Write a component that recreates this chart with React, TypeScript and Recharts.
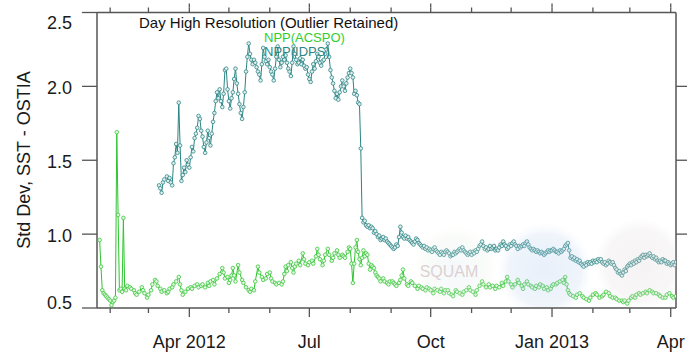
import React from 'react';
import { LineChart, Line, XAxis, YAxis } from 'recharts';

// days since 2012-01-01 (day 0 = Jan 1 2012)
const monthTickDays = [31, 60, 91, 121, 152, 182, 213, 244, 274, 305, 335, 366, 397, 425, 456];
const majorTickDays = [91, 182, 274, 366, 456];
const majorTickLabels = ['Apr 2012', 'Jul', 'Oct', 'Jan 2013', 'Apr'];
const yTicks = [0.5, 1.0, 1.5, 2.0, 2.5];
const yTicksRight = [1.0, 1.5, 2.0];

const acspo: [number, number][] = [
  [23,0.96],[24,0.78],[25,0.62],[26,0.60],[27,0.59],[28,0.58],[29,0.57],[30,0.56],[31,0.55],[32,0.52],[33,0.54],[34,0.55],[35,0.57],[36,1.69],[37,1.13],[38,0.62],[39,0.63],[40,0.61],[41,1.11],[42,0.63],[43,0.62],[44,0.65],[46,0.64],[47,0.63],[49,0.62],[50,0.60],[51,0.59],[53,0.61],[55,0.64],[56,0.62],[57,0.60],[59,0.57],[60,0.59],[62,0.62],[63,0.66],[65,0.69],[66,0.68],[67,0.65],[69,0.63],[70,0.61],[72,0.62],[74,0.60],[75,0.61],[76,0.63],[78,0.64],[79,0.66],[81,0.68],[83,0.71],[84,0.66],[85,0.62],[86,0.59],[88,0.61],[90,0.63],[92,0.64],[93,0.63],[95,0.65],[97,0.66],[98,0.64],[100,0.65],[101,0.66],[103,0.64],[105,0.67],[106,0.65],[107,0.68],[109,0.69],[110,0.66],[112,0.70],[114,0.73],[116,0.77],[117,0.74],[118,0.70],[120,0.71],[121,0.67],[122,0.69],[123,0.72],[124,0.77],[125,0.72],[126,0.68],[128,0.79],[129,0.74],[131,0.69],[132,0.67],[134,0.64],[136,0.62],[137,0.61],[138,0.63],[140,0.62],[141,0.68],[143,0.78],[144,0.74],[146,0.71],[147,0.69],[149,0.70],[150,0.73],[152,0.74],[153,0.70],[154,0.68],[156,0.67],[157,0.66],[159,0.67],[161,0.66],[162,0.68],[163,0.73],[164,0.78],[165,0.75],[166,0.79],[168,0.81],[169,0.77],[170,0.74],[171,0.78],[172,0.80],[174,0.82],[175,0.79],[177,0.87],[178,0.83],[179,0.80],[181,0.79],[182,0.81],[184,0.82],[185,0.80],[187,0.85],[188,0.90],[189,0.86],[190,0.83],[192,0.79],[193,0.82],[194,0.86],[196,0.90],[197,0.86],[199,0.82],[200,0.84],[201,0.87],[203,0.89],[204,0.86],[205,0.84],[207,0.86],[208,0.85],[209,0.84],[211,0.88],[212,0.91],[213,0.90],[214,0.80],[215,0.67],[216,0.80],[217,0.91],[218,0.96],[219,0.88],[220,0.83],[221,0.79],[222,0.84],[223,0.89],[224,0.85],[225,0.87],[226,0.86],[227,0.80],[228,0.76],[229,0.79],[230,0.78],[231,0.77],[232,0.74],[233,0.72],[234,0.71],[235,0.70],[236,0.68],[238,0.70],[239,0.68],[241,0.67],[242,0.66],[243,0.68],[245,0.68],[246,0.67],[247,0.66],[248,0.65],[250,0.67],[251,0.69],[252,0.72],[253,0.76],[254,0.70],[256,0.66],[257,0.65],[259,0.68],[260,0.67],[262,0.65],[264,0.63],[265,0.65],[267,0.64],[268,0.63],[270,0.62],[271,0.64],[273,0.63],[274,0.62],[276,0.60],[277,0.63],[279,0.62],[281,0.61],[282,0.63],[284,0.60],[285,0.62],[287,0.62],[288,0.60],[290,0.59],[291,0.58],[293,0.62],[294,0.61],[296,0.60],[298,0.59],[299,0.61],[301,0.62],[303,0.64],[304,0.62],[306,0.61],[308,0.59],[309,0.62],[311,0.65],[313,0.68],[314,0.66],[316,0.64],[318,0.66],[319,0.64],[321,0.65],[323,0.63],[324,0.65],[326,0.64],[328,0.67],[329,0.65],[331,0.68],[332,0.71],[333,0.68],[335,0.66],[336,0.64],[338,0.66],[340,0.69],[341,0.67],[343,0.65],[344,0.63],[345,0.66],[347,0.68],[348,0.66],[350,0.65],[351,0.64],[353,0.63],[354,0.65],[356,0.64],[357,0.66],[359,0.65],[360,0.63],[362,0.64],[363,0.62],[365,0.63],[366,0.65],[367,0.66],[369,0.66],[370,0.67],[372,0.68],[374,0.69],[375,0.67],[376,0.71],[377,0.66],[378,0.62],[379,0.60],[380,0.59],[382,0.58],[384,0.57],[385,0.59],[387,0.60],[389,0.58],[390,0.57],[392,0.56],[394,0.55],[395,0.57],[397,0.59],[399,0.60],[400,0.59],[402,0.57],[404,0.58],[405,0.59],[407,0.61],[409,0.60],[410,0.58],[412,0.57],[414,0.57],[415,0.56],[417,0.55],[419,0.55],[420,0.54],[421,0.55],[423,0.53],[424,0.55],[426,0.57],[427,0.58],[429,0.57],[430,0.59],[432,0.60],[433,0.59],[435,0.60],[437,0.61],[438,0.60],[440,0.62],[442,0.61],[443,0.60],[445,0.60],[447,0.59],[448,0.58],[450,0.57],[452,0.57],[453,0.59],[455,0.60],[457,0.58],[458,0.57],[460,0.58],
];

const idps: [number, number][] = [
  [68,1.33],[69,1.31],[70,1.28],[71,1.35],[72,1.37],[74,1.39],[75,1.36],[76,1.38],[77,1.35],[78,1.33],[79,1.48],[80,1.52],[81,1.61],[82,1.55],[83,1.89],[84,1.60],[85,1.36],[86,1.40],[87,1.45],[88,1.42],[89,1.50],[90,1.47],[91,1.45],[92,1.52],[93,1.59],[94,1.56],[95,1.65],[96,1.68],[97,1.72],[98,1.80],[99,1.78],[100,1.70],[101,1.66],[102,1.59],[103,1.55],[104,1.62],[105,1.70],[106,1.65],[107,1.60],[108,1.68],[109,1.76],[110,1.82],[111,1.90],[112,1.96],[113,1.92],[114,1.98],[115,1.90],[116,1.86],[117,1.95],[118,2.11],[119,2.12],[120,1.98],[121,1.90],[122,1.85],[123,1.92],[124,1.96],[125,2.05],[126,2.12],[127,2.02],[128,1.95],[129,1.88],[130,1.82],[131,1.78],[132,1.86],[133,1.96],[134,2.10],[135,2.20],[136,2.29],[137,2.22],[138,2.18],[139,2.15],[140,2.18],[141,2.16],[142,2.13],[143,2.10],[144,2.08],[145,2.04],[146,2.15],[147,2.26],[148,2.20],[149,2.17],[150,2.15],[151,2.18],[152,2.13],[153,2.10],[154,2.08],[155,2.04],[156,2.12],[157,2.20],[158,2.27],[159,2.18],[160,2.13],[161,2.16],[162,2.20],[163,2.18],[164,2.21],[165,2.16],[166,2.12],[167,2.10],[168,2.07],[169,2.16],[170,2.27],[171,2.22],[172,2.18],[173,2.15],[174,2.16],[175,2.19],[176,2.15],[177,2.18],[178,2.14],[179,2.12],[180,2.13],[181,2.08],[182,2.05],[183,2.03],[184,2.10],[185,2.15],[186,2.12],[187,2.17],[188,2.22],[189,2.20],[190,2.16],[191,2.14],[192,2.17],[193,2.18],[194,2.22],[195,2.25],[196,2.29],[197,2.20],[198,2.11],[199,2.06],[200,2.02],[201,1.97],[202,1.92],[203,1.95],[204,1.91],[205,1.96],[206,2.00],[207,2.04],[208,2.00],[209,1.97],[210,2.02],[211,2.06],[212,2.09],[213,2.12],[214,2.09],[215,2.06],[216,1.95],[217,1.97],[218,1.94],[219,1.89],[220,1.88],[221,1.58],[222,1.11],[223,1.08],[224,1.09],[225,1.06],[226,1.05],[227,1.06],[228,1.04],[229,1.05],[230,1.04],[231,1.01],[232,1.02],[233,1.00],[234,0.98],[235,0.99],[236,0.96],[237,0.97],[238,0.98],[239,0.96],[240,0.97],[241,0.95],[242,0.94],[243,0.93],[244,0.92],[245,0.91],[246,0.90],[247,0.91],[248,0.93],[249,0.92],[250,0.98],[251,1.05],[252,1.01],[253,0.98],[254,0.97],[255,0.99],[256,0.97],[257,0.98],[258,0.96],[259,0.95],[260,0.94],[261,0.93],[262,0.95],[263,0.97],[264,0.96],[265,0.94],[266,0.93],[267,0.92],[268,0.91],[269,0.92],[270,0.90],[271,0.91],[272,0.89],[273,0.90],[274,0.89],[275,0.88],[276,0.90],[277,0.91],[278,0.89],[279,0.88],[280,0.87],[281,0.86],[282,0.88],[283,0.87],[284,0.86],[285,0.88],[286,0.89],[287,0.88],[288,0.87],[289,0.85],[290,0.86],[291,0.86],[292,0.88],[293,0.87],[294,0.88],[295,0.89],[296,0.90],[297,0.89],[298,0.91],[299,0.89],[300,0.88],[301,0.87],[302,0.86],[303,0.87],[304,0.88],[305,0.86],[306,0.88],[307,0.87],[308,0.89],[309,0.88],[310,0.90],[311,0.92],[312,0.93],[313,0.95],[314,0.92],[315,0.90],[316,0.91],[317,0.89],[318,0.90],[319,0.92],[320,0.90],[321,0.91],[322,0.92],[323,0.89],[324,0.90],[325,0.89],[326,0.91],[327,0.93],[328,0.92],[329,0.95],[330,0.93],[331,0.92],[332,0.90],[333,0.91],[334,0.93],[335,0.92],[336,0.94],[337,0.95],[338,0.93],[339,0.92],[340,0.90],[341,0.92],[342,0.91],[343,0.92],[344,0.93],[345,0.92],[346,0.94],[347,0.95],[348,0.93],[349,0.91],[350,0.90],[351,0.89],[352,0.90],[353,0.89],[354,0.88],[355,0.89],[356,0.88],[357,0.87],[358,0.88],[359,0.87],[360,0.86],[361,0.87],[362,0.88],[363,0.89],[364,0.88],[365,0.89],[366,0.89],[367,0.90],[368,0.89],[369,0.88],[370,0.88],[371,0.87],[372,0.89],[373,0.88],[374,0.89],[375,0.90],[376,0.92],[377,0.93],[378,0.94],[379,0.89],[380,0.84],[381,0.85],[382,0.83],[383,0.84],[384,0.82],[385,0.83],[386,0.81],[387,0.82],[388,0.80],[389,0.79],[390,0.78],[391,0.80],[392,0.79],[393,0.81],[394,0.80],[395,0.81],[396,0.80],[397,0.82],[398,0.81],[399,0.82],[400,0.81],[401,0.83],[402,0.82],[403,0.83],[404,0.81],[405,0.80],[406,0.81],[407,0.79],[408,0.80],[409,0.82],[410,0.81],[411,0.80],[412,0.81],[413,0.79],[414,0.77],[415,0.76],[416,0.74],[417,0.75],[418,0.73],[419,0.72],[420,0.74],[421,0.76],[422,0.75],[423,0.78],[424,0.79],[425,0.80],[426,0.79],[427,0.81],[428,0.80],[429,0.82],[430,0.81],[431,0.83],[432,0.82],[433,0.84],[434,0.85],[435,0.86],[436,0.84],[437,0.86],[438,0.85],[439,0.86],[440,0.87],[441,0.85],[442,0.84],[443,0.85],[444,0.83],[445,0.84],[446,0.82],[447,0.81],[448,0.82],[449,0.81],[450,0.83],[451,0.82],[452,0.82],[453,0.80],[454,0.81],[455,0.80],[456,0.79],[457,0.80],[458,0.81],[459,0.79],[460,0.81],
];

const acspoData = acspo.map(([d, v]) => ({ d, v }));
const idpsData = idps.map(([d, v]) => ({ d, v }));

const FONT = '"Liberation Sans", Arial, Helvetica, sans-serif';
const AXIS = '#555';
const GREEN = '#2ec52e';
const TEAL = '#2a8584';

const BottomTick = (props: any) => {
  const { x, y, payload } = props;
  const i = majorTickDays.indexOf(payload.value);
  if (i < 0) return <g />;
  return (
    <g>
      <line x1={x} y1={y} x2={x} y2={y + 4} stroke={AXIS} strokeWidth={1.3} />
      <text x={x} y={y + 35} textAnchor="middle" fontSize={18} fontFamily={FONT} fill="#1a1a1a">
        {majorTickLabels[i]}
      </text>
    </g>
  );
};

const TopTick = (props: any) => {
  const { x, y, payload } = props;
  const i = majorTickDays.indexOf(payload.value);
  if (i < 0) return <g />;
  return <line x1={x} y1={y} x2={x} y2={y - 4} stroke={AXIS} strokeWidth={1.3} />;
};

const LeftTick = (props: any) => {
  const { x, y, payload } = props;
  const v = payload.value;
  const dy = v === 2.5 ? 16 : v === 0.5 ? 1 : 8;
  return (
    <text x={x} y={y + dy} textAnchor="end" fontSize={18} fontFamily={FONT} fill="#1a1a1a">
      {v.toFixed(1)}
    </text>
  );
};

const EmptyTick = () => <g />;

export default function App() {
  return (
    <div style={{ position: 'absolute', left: 0, top: 0, width: 687, height: 358, background: '#fff' }}>
      <LineChart width={687} height={358} margin={{ top: 0, right: 0, bottom: 0, left: 0 }}>
        <XAxis
          dataKey="d"
          type="number"
          domain={[21, 460]}
          allowDataOverflow
          ticks={monthTickDays}
          interval={0}
          height={50}
          tickSize={5}
          tickMargin={0}
          stroke={AXIS}
          axisLine={{ stroke: AXIS, strokeWidth: 1.5 }}
          tickLine={{ stroke: AXIS, strokeWidth: 1.3 }}
          tick={<BottomTick />}
        />
        <XAxis
          xAxisId="top"
          orientation="top"
          dataKey="d"
          type="number"
          domain={[21, 460]}
          allowDataOverflow
          ticks={monthTickDays}
          interval={0}
          height={12.5}
          tickSize={5}
          tickMargin={0}
          axisLine={{ stroke: AXIS, strokeWidth: 1.5 }}
          tickLine={{ stroke: AXIS, strokeWidth: 1.3 }}
          tick={<TopTick />}
        />
        <YAxis
          type="number"
          domain={[0.5, 2.5]}
          allowDataOverflow
          ticks={yTicks}
          interval={0}
          width={97}
          tickSize={15}
          tickMargin={10}
          axisLine={{ stroke: AXIS, strokeWidth: 1.5 }}
          tickLine={{ stroke: AXIS, strokeWidth: 1.3 }}
          tick={<LeftTick />}
        />
        <YAxis
          yAxisId="right"
          orientation="right"
          type="number"
          domain={[0.5, 2.5]}
          allowDataOverflow
          ticks={yTicksRight}
          interval={0}
          width={11}
          tickSize={11}
          axisLine={{ stroke: AXIS, strokeWidth: 1.5 }}
          tickLine={{ stroke: AXIS, strokeWidth: 1.3 }}
          tick={<EmptyTick />}
        />
        <Line
          data={acspoData}
          dataKey="v"
          type="linear"
          stroke={GREEN}
          strokeWidth={1}
          dot={{ r: 1.8, fill: '#e4f7e4', stroke: '#3cc83c', strokeWidth: 0.8 }}
          activeDot={false}
          isAnimationActive={false}
        />
        <Line
          data={idpsData}
          dataKey="v"
          type="linear"
          stroke={TEAL}
          strokeWidth={1}
          dot={{ r: 1.8, fill: '#e2efee', stroke: '#2f8786', strokeWidth: 0.8 }}
          activeDot={false}
          isAnimationActive={false}
        />
      </LineChart>
      <svg
        width={687}
        height={358}
        style={{ position: 'absolute', left: 0, top: 0, pointerEvents: 'none' }}
      >
        <defs>
          <clipPath id="plotclip">
            <rect x={97} y={13} width={579} height={294} />
          </clipPath>
          <radialGradient id="wmBlue">
            <stop offset="0%" stopColor="rgb(175,200,235)" stopOpacity={0.28} />
            <stop offset="75%" stopColor="rgb(185,208,238)" stopOpacity={0.22} />
            <stop offset="100%" stopColor="rgb(220,230,245)" stopOpacity={0} />
          </radialGradient>
          <radialGradient id="wmLight">
            <stop offset="0%" stopColor="rgb(210,225,240)" stopOpacity={0.22} />
            <stop offset="75%" stopColor="rgb(225,235,225)" stopOpacity={0.18} />
            <stop offset="100%" stopColor="rgb(240,240,220)" stopOpacity={0} />
          </radialGradient>
          <radialGradient id="wmGray">
            <stop offset="0%" stopColor="rgb(215,205,210)" stopOpacity={0.25} />
            <stop offset="75%" stopColor="rgb(220,212,215)" stopOpacity={0.2} />
            <stop offset="100%" stopColor="rgb(235,230,230)" stopOpacity={0} />
          </radialGradient>
        </defs>
        <g clipPath="url(#plotclip)">
          <circle cx={455} cy={268} r={42} fill="url(#wmLight)" />
          <circle cx={545} cy={270} r={48} fill="url(#wmBlue)" />
          <circle cx={640} cy={264} r={46} fill="url(#wmGray)" />
          <text x={449} y={277} textAnchor="middle" fontSize={16} fontFamily={FONT} fill="rgba(200,180,180,0.6)">
            SQUAM
          </text>
        </g>
        <text x={139} y={27.5} fontSize={15} fontFamily={FONT} fill="#111">
          Day High Resolution (Outlier Retained)
        </text>
        <text x={264} y={42} fontSize={13} fontFamily={FONT} fill="#2fcf2f">
          NPP(ACSPO)
        </text>
        <text x={264} y={56} fontSize={13} fontFamily={FONT} fill={TEAL}>
          NPP(IDPS)
        </text>
        <text
          x={30}
          y={160}
          transform="rotate(-90, 30, 160)"
          textAnchor="middle"
          fontSize={18}
          fontFamily={FONT}
          fill="#1a1a1a"
        >
          Std Dev, SST - OSTIA
        </text>
      </svg>
    </div>
  );
}
